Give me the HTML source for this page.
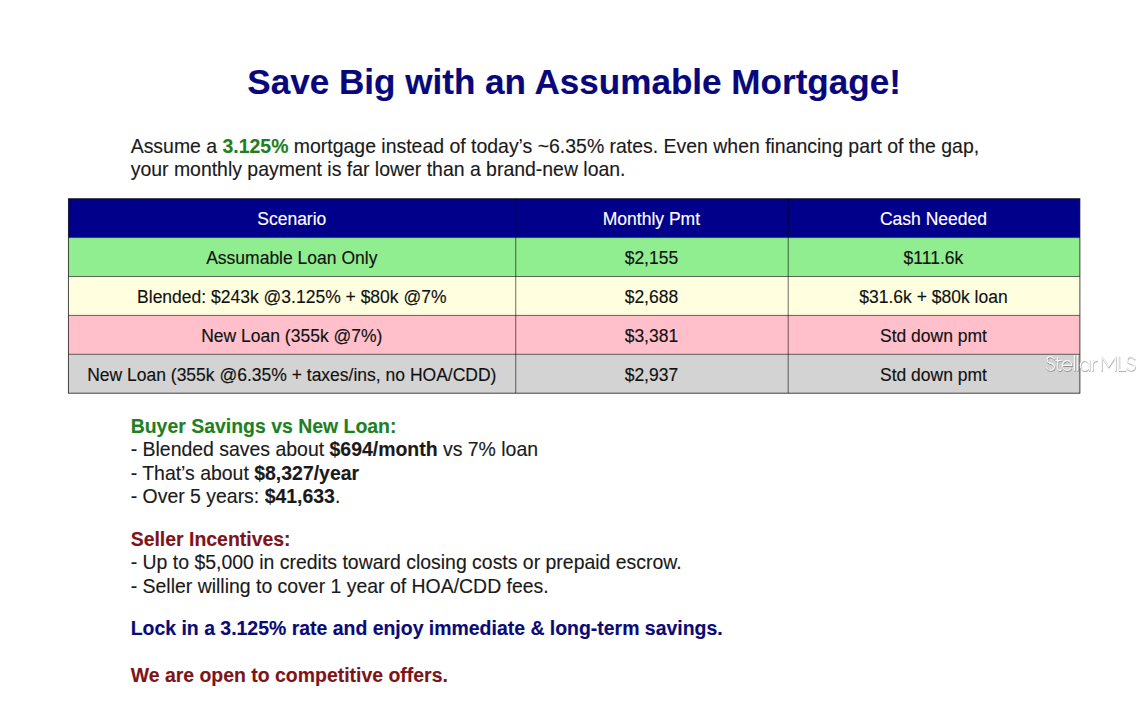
<!DOCTYPE html>
<html>
<head>
<meta charset="utf-8">
<title>Save Big with an Assumable Mortgage</title>
<style>
html,body{margin:0;padding:0;background:#fff;}
body{width:1140px;height:727px;position:relative;overflow:hidden;font-family:"Liberation Sans",sans-serif;color:#1a1a1a;}
.l{position:absolute;left:130.7px;white-space:nowrap;font-size:19.45px;line-height:24px;height:24px;}
.l b{font-weight:bold;}
.l,.c,h1{-webkit-text-stroke:0.14px currentColor;}
h1{position:absolute;margin:0;left:0.6px;width:1147px;text-align:center;top:61.6px;font-size:35.08px;line-height:40px;font-weight:bold;color:#08087c;white-space:nowrap;}
.green{color:#1f7f24;}
.red{color:#7e1418;}
.navy{color:#0a0a78;}
svg.tbl{position:absolute;left:0;top:0;}
.c{position:absolute;text-align:center;white-space:nowrap;font-size:17.5px;line-height:38.9px;height:38.9px;color:#111;}
.c.h{color:#fff;}
svg.wm{position:absolute;left:0;top:0;pointer-events:none;}
</style>
</head>
<body>
<h1>Save Big with an Assumable Mortgage!</h1>
<div class="l " style="top:134.2px">Assume a <b class="green">3.125%</b> mortgage instead of today’s ~6.35% rates. Even when financing part of the gap,</div>
<div class="l " style="top:157px">your monthly payment is far lower than a brand-new loan.</div>
<svg class="tbl" width="1140" height="727" viewBox="0 0 1140 727">
<rect x="68.4" y="198.7" width="1011.50" height="38.90" fill="#00008B"/>
<rect x="68.4" y="237.6" width="1011.50" height="38.90" fill="#90EE90"/>
<rect x="68.4" y="276.5" width="1011.50" height="38.90" fill="#FFFFE0"/>
<rect x="68.4" y="315.4" width="1011.50" height="38.90" fill="#FFC0CB"/>
<rect x="68.4" y="354.3" width="1011.50" height="38.90" fill="#D3D3D3"/>
<g stroke="#000" stroke-opacity="0.9" stroke-width="0.65" fill="none">
<line x1="68.4" y1="237.6" x2="1079.9" y2="237.6"/>
<line x1="68.4" y1="276.5" x2="1079.9" y2="276.5"/>
<line x1="68.4" y1="315.4" x2="1079.9" y2="315.4"/>
<line x1="68.4" y1="354.3" x2="1079.9" y2="354.3"/>
<line x1="515.75" y1="198.7" x2="515.75" y2="393.2"/>
<line x1="788.2" y1="198.7" x2="788.2" y2="393.2"/>
</g>
<rect x="68.4" y="198.7" width="1011.50" height="194.50" fill="none" stroke="#000" stroke-opacity="0.8" stroke-width="0.9"/>
</svg>
<div class="c h" style="left:68.10px;width:447.40px;top:200.20px">Scenario</div>
<div class="c h" style="left:515.30px;width:272.26px;top:200.20px">Monthly Pmt</div>
<div class="c h" style="left:787.56px;width:291.84px;top:200.20px">Cash Needed</div>
<div class="c" style="left:68.10px;width:447.40px;top:239.10px">Assumable Loan Only</div>
<div class="c" style="left:515.30px;width:272.26px;top:239.10px">$2,155</div>
<div class="c" style="left:787.56px;width:291.84px;top:239.10px">$111.6k</div>
<div class="c" style="left:68.10px;width:447.40px;top:278.00px">Blended: $243k @3.125% + $80k @7%</div>
<div class="c" style="left:515.30px;width:272.26px;top:278.00px">$2,688</div>
<div class="c" style="left:787.56px;width:291.84px;top:278.00px">$31.6k + $80k loan</div>
<div class="c" style="left:68.10px;width:447.40px;top:316.90px">New Loan (355k @7%)</div>
<div class="c" style="left:515.30px;width:272.26px;top:316.90px">$3,381</div>
<div class="c" style="left:787.56px;width:291.84px;top:316.90px">Std down pmt</div>
<div class="c" style="left:68.10px;width:447.40px;top:355.80px">New Loan (355k @6.35% + taxes/ins, no HOA/CDD)</div>
<div class="c" style="left:515.30px;width:272.26px;top:355.80px">$2,937</div>
<div class="c" style="left:787.56px;width:291.84px;top:355.80px">Std down pmt</div>
<svg class="wm" width="1140" height="727" viewBox="0 0 1140 727">
<defs><filter id="wb" x="-5%" y="-30%" width="110%" height="160%"><feGaussianBlur stdDeviation="0.7"/></filter></defs>
<g fill="none" stroke-linecap="round" stroke-linejoin="round" transform="translate(-0.8,0)">
<path d="M1054.9,358.9 C1053.7,357.1 1052.8,356.5 1051.3,356.5 C1049.0,356.5 1047.8,358.1 1047.8,360.1 C1047.8,362.5 1049.8,362.8 1051.3,363.4 C1053.8,364.1 1055.2,364.7 1055.2,366.8 C1055.2,368.9 1053.5,370.3 1051.3,370.3 C1049.3,370.3 1048.4,369.5 1047.4,367.7 M1058.6,357.7 V367.7 Q1058.6,370.3 1060.6,370.3 Q1061.4,370.3 1062,369.8 M1056.6,360.6 H1061.8 M1063.2,365.4 H1072.6 A4.7,4.95 0 1 0 1071.5,368.7 M1075.3,355.7 V370.3 M1078.5,355.7 V370.3 M1090.1,365.4 A4.5,4.95 0 1 0 1090.1,365.5 M1090.1,360.4 V370.3 M1093.4,360.4 V370.3 M1093.4,364.6 Q1093.6,360.7 1097.6,360.7 M1102.6,370.3 V356.5 L1109.4,366.7 L1116.2,356.5 V370.3 M1119.8,356.5 V370.3 H1126 M1135.1,358.9 C1133.9,357.1 1133.1,356.5 1131.6,356.5 C1129.2,356.5 1128.0,358.1 1128.0,360.1 C1128.0,362.5 1130.1,362.8 1131.6,363.4 C1134.1,364.1 1135.4,364.7 1135.4,366.8 C1135.4,368.9 1133.7,370.3 1131.6,370.3 C1129.6,370.3 1128.6,369.5 1127.6,367.7" stroke="#000" stroke-opacity="0.3" stroke-width="1.7" transform="translate(0.4,0.8)" filter="url(#wb)"/>
<path d="M1054.9,358.9 C1053.7,357.1 1052.8,356.5 1051.3,356.5 C1049.0,356.5 1047.8,358.1 1047.8,360.1 C1047.8,362.5 1049.8,362.8 1051.3,363.4 C1053.8,364.1 1055.2,364.7 1055.2,366.8 C1055.2,368.9 1053.5,370.3 1051.3,370.3 C1049.3,370.3 1048.4,369.5 1047.4,367.7 M1058.6,357.7 V367.7 Q1058.6,370.3 1060.6,370.3 Q1061.4,370.3 1062,369.8 M1056.6,360.6 H1061.8 M1063.2,365.4 H1072.6 A4.7,4.95 0 1 0 1071.5,368.7 M1075.3,355.7 V370.3 M1078.5,355.7 V370.3 M1090.1,365.4 A4.5,4.95 0 1 0 1090.1,365.5 M1090.1,360.4 V370.3 M1093.4,360.4 V370.3 M1093.4,364.6 Q1093.6,360.7 1097.6,360.7 M1102.6,370.3 V356.5 L1109.4,366.7 L1116.2,356.5 V370.3 M1119.8,356.5 V370.3 H1126 M1135.1,358.9 C1133.9,357.1 1133.1,356.5 1131.6,356.5 C1129.2,356.5 1128.0,358.1 1128.0,360.1 C1128.0,362.5 1130.1,362.8 1131.6,363.4 C1134.1,364.1 1135.4,364.7 1135.4,366.8 C1135.4,368.9 1133.7,370.3 1131.6,370.3 C1129.6,370.3 1128.6,369.5 1127.6,367.7" stroke="#fff" stroke-opacity="0.92" stroke-width="1.25"/>
</g>
</svg>
<div class="l green" style="top:414px"><b>Buyer Savings vs New Loan:</b></div>
<div class="l " style="top:437.3px">- Blended saves about <b>$694/month</b> vs 7% loan</div>
<div class="l " style="top:460.7px">- That’s about <b>$8,327/year</b></div>
<div class="l " style="top:484px">- Over 5 years: <b>$41,633</b>.</div>
<div class="l red" style="top:527px"><b>Seller Incentives:</b></div>
<div class="l " style="top:550.3px">- Up to $5,000 in credits toward closing costs or prepaid escrow.</div>
<div class="l " style="top:573.7px">- Seller willing to cover 1 year of HOA/CDD fees.</div>
<div class="l navy" style="top:616px"><b>Lock in a 3.125% rate and enjoy immediate &amp; long-term savings.</b></div>
<div class="l red" style="top:663px"><b>We are open to competitive offers.</b></div>
</body>
</html>
